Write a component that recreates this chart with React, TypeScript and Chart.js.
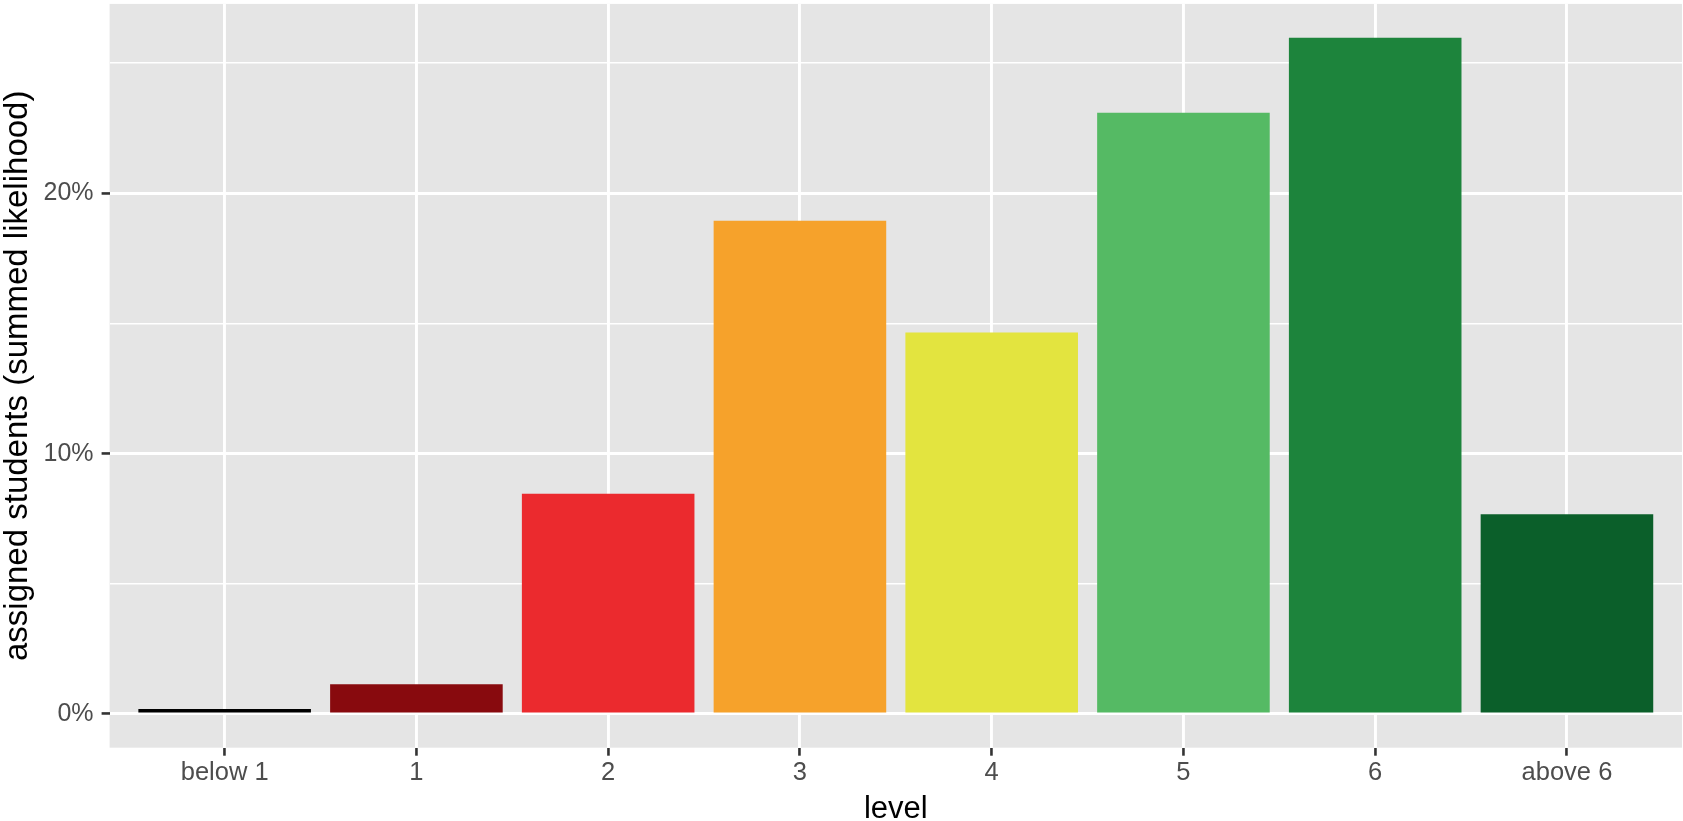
import React, { useEffect, useRef } from "react";
import { Chart, registerables } from "chart.js";

Chart.register(...registerables);

const categories = ["below 1", "1", "2", "3", "4", "5", "6", "above 6"];
const shares = [0.19, 1.14, 8.46, 18.95, 14.65, 23.1, 25.98, 7.67];
const barColors = ["#000000", "#880A0E", "#EB2A2E", "#F6A22B", "#E3E43F", "#55BA64", "#1D843C", "#0B5F2A"];
const yTicks = [0, 5, 10, 15, 20, 25];
const yMajor = [0, 10, 20];

const FONT = "'Liberation Sans', Arial, Helvetica, sans-serif";

const panelBg = {
  id: "panelBg",
  beforeDraw(chart: any) {
    const { ctx, chartArea: a } = chart;
    ctx.save();
    ctx.fillStyle = "#E5E5E5";
    ctx.fillRect(a.left, a.top, a.right - a.left, a.bottom - a.top);
    ctx.restore();
  },
};

export default function App() {
  const ref = useRef<HTMLCanvasElement>(null);

  useEffect(() => {
    const maxV = Math.max(...shares);
    const chart = new Chart(ref.current as HTMLCanvasElement, {
      type: "bar",
      data: {
        datasets: [
          {
            data: shares.map((v, i) => ({ x: i, y: v })) as any,
            backgroundColor: barColors,
            borderWidth: 0,
            barPercentage: 0.9,
            categoryPercentage: 1,
          },
        ],
      },
      options: {
        responsive: false,
        animation: false,
        devicePixelRatio: 1,
        layout: { padding: { top: 3.9, right: 1, left: 0, bottom: 0 } },
        plugins: {
          legend: { display: false },
          tooltip: { enabled: false },
        },
        scales: {
          x: {
            type: "linear",
            offset: false,
            min: -0.6,
            max: categories.length - 1 + 0.6,
            afterBuildTicks: (s: any) => {
              s.ticks = categories.map((_, i) => ({ value: i }));
            },
            afterFit: (s: any) => {
              s.height = 821 - 747.7;
              s.paddingLeft = 0;
              s.paddingRight = 0;
            },
            border: { display: false },
            grid: {
              offset: false,
              color: "#FFFFFF",
              lineWidth: 2.9,
              drawTicks: true,
              tickLength: 8,
              tickColor: "#333333",
              tickWidth: 2.6,
            },
            ticks: {
              autoSkip: false,
              maxRotation: 0,
              minRotation: 0,
              padding: 2,
              color: "#4D4D4D",
              font: { family: FONT, size: 25.5 },
              callback: (v: any) => categories[Math.round(Number(v))] ?? "",
            },
            title: {
              display: true,
              text: "level",
              color: "#000000",
              font: { family: FONT, size: 31, lineHeight: 0.75 },
              padding: { top: 0, bottom: 0 },
            },
          },
          y: {
            type: "linear",
            min: -maxV * 0.05,
            max: maxV * 1.05,
            afterBuildTicks: (s: any) => {
              s.ticks = yTicks.map((v) => ({ value: v }));
            },
            afterFit: (s: any) => {
              s.width = 109.6;
              s.paddingTop = 0;
              s.paddingBottom = 0;
            },
            border: { display: false },
            grid: {
              color: "#FFFFFF",
              lineWidth: (c: any) => (c.tick && yMajor.includes(c.tick.value) ? 2.9 : 1.5),
              drawTicks: true,
              tickLength: 8,
              tickColor: (c: any) => (c.tick && yMajor.includes(c.tick.value) ? "#333333" : "rgba(0,0,0,0)"),
              tickWidth: 2.6,
            },
            ticks: {
              padding: 8,
              color: "#4D4D4D",
              font: { family: FONT, size: 25 },
              callback: (v: any) => (yMajor.includes(Number(v)) ? `${v}%` : ""),
            },
            title: {
              display: true,
              text: "assigned students (summed likelihood)",
              color: "#000000",
              font: { family: FONT, size: 33, lineHeight: 1 },
              padding: { top: 1.5, bottom: 0 },
            },
          },
        },
      },
      plugins: [panelBg],
    });
    return () => chart.destroy();
  }, []);

  return (
    <div style={{ position: "absolute", left: 0, top: 0, width: 1683, height: 821 }}>
      <canvas ref={ref} width={1683} height={821} style={{ display: "block" }} />
    </div>
  );
}
